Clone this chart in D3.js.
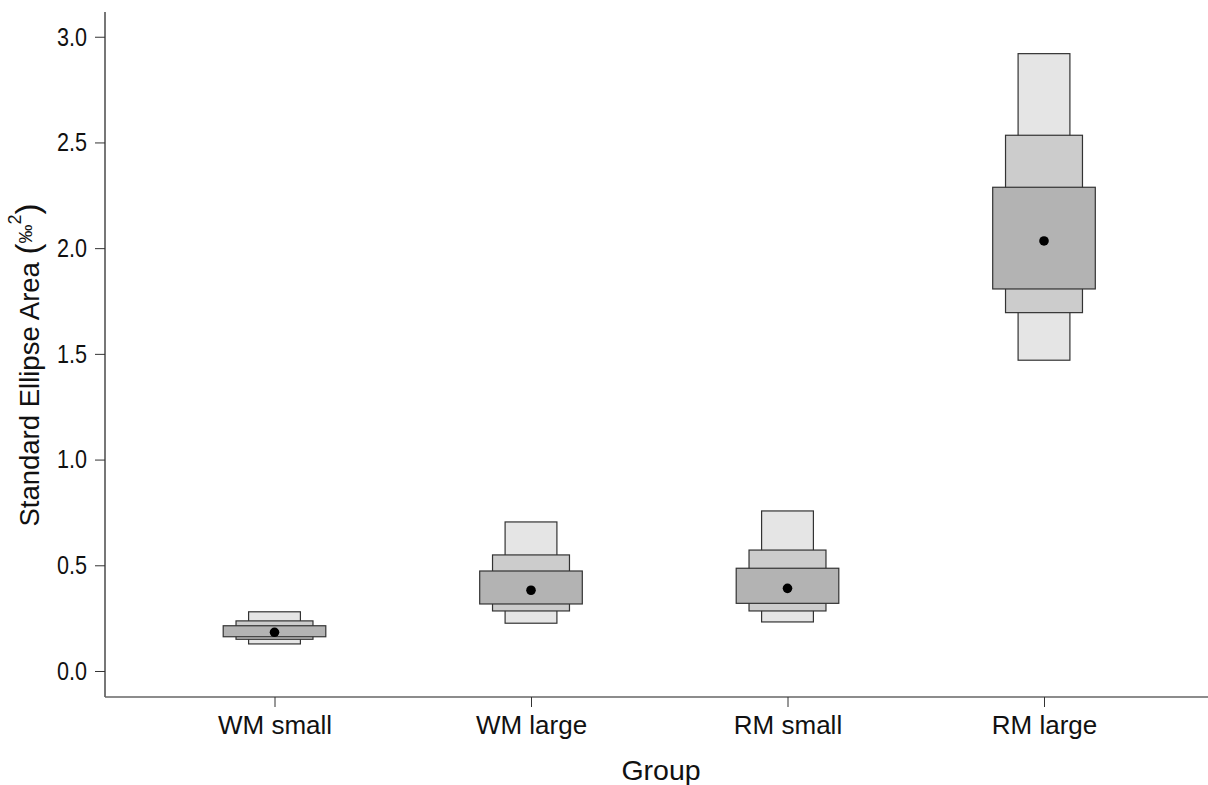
<!DOCTYPE html>
<html>
<head>
<meta charset="utf-8">
<script src="https://cdn.jsdelivr.net/npm/d3@7"></script>
<style>
html,body{margin:0;padding:0;background:#fff;}
svg{display:block;font-family:"Liberation Sans",Arial,sans-serif;}
</style>
</head>
<body>
<svg id="chart" width="1208" height="785"></svg>
<script>
const groups = ["WM small", "WM large", "RM small", "RM large"];
const modeVals = [0.183, 0.382, 0.391, 2.034];
const ci50Lo = [0.162, 0.317, 0.320, 1.807];
const ci50Hi = [0.214, 0.473, 0.486, 2.288];
const ci75Lo = [0.150, 0.284, 0.284, 1.695];
const ci75Hi = [0.237, 0.549, 0.572, 2.534];
const ci95Lo = [0.128, 0.226, 0.232, 1.470];
const ci95Hi = [0.280, 0.705, 0.757, 2.920];
const yTicks = [0, 0.5, 1.0, 1.5, 2.0, 2.5, 3.0];
const yTickLabels = ["0.0", "0.5", "1.0", "1.5", "2.0", "2.5", "3.0"];

const svg = d3.select("#chart");
const mLeft = 105, mRight = 1208, mTop = 12, mBottom = 697;

const x = d3.scalePoint().domain(groups).range([274.5, 1044]);
const y = d3.scaleLinear().domain([-0.123, 3.117]).range([mBottom, mTop]);
const step = x.step();

const layers = [
  {lo: ci95Lo, hi: ci95Hi, w: 0.202, fill: "#e5e5e5"},
  {lo: ci75Lo, hi: ci75Hi, w: 0.300, fill: "#cccccc"},
  {lo: ci50Lo, hi: ci50Hi, w: 0.400, fill: "#b3b3b3"}
];

const g = svg.append("g");
layers.forEach(L => {
  g.selectAll(null).data(groups).enter().append("rect")
    .attr("x", (d) => x(d) - L.w * step / 2)
    .attr("width", L.w * step)
    .attr("y", (d, i) => y(L.hi[i]))
    .attr("height", (d, i) => y(L.lo[i]) - y(L.hi[i]))
    .attr("fill", L.fill)
    .attr("stroke", "#333")
    .attr("stroke-width", 1.2);
});

g.selectAll(null).data(groups).enter().append("circle")
  .attr("cx", d => x(d))
  .attr("cy", (d, i) => y(modeVals[i]))
  .attr("r", 4.8)
  .attr("fill", "#000");

// axes lines
svg.append("line").attr("x1", mLeft).attr("x2", mLeft).attr("y1", mTop).attr("y2", mBottom)
  .attr("stroke", "#555").attr("stroke-width", 1.6);
svg.append("line").attr("x1", mLeft).attr("x2", mRight).attr("y1", mBottom).attr("y2", mBottom)
  .attr("stroke", "#666").attr("stroke-width", 1.6);

// y axis
const yAxis = d3.axisLeft(y).tickValues(yTicks).tickSize(10).tickPadding(8)
  .tickFormat((d, i) => yTickLabels[i]);
const ya = svg.append("g").attr("transform", `translate(${mLeft},0)`).call(yAxis);
ya.select(".domain").remove();
ya.selectAll(".tick line").attr("stroke", "#333").attr("stroke-width", 1);
ya.selectAll(".tick text").attr("font-size", 26).attr("fill", "#111")
  .attr("font-family", "'Liberation Sans', Arial, sans-serif")
  .attr("textLength", 30).attr("lengthAdjust", "spacingAndGlyphs");

// x axis
const xAxis = d3.axisBottom(x).tickSize(10).tickPadding(9);
const xa = svg.append("g").attr("transform", `translate(0,${mBottom})`).call(xAxis);
xa.select(".domain").remove();
xa.selectAll(".tick line").attr("stroke", "#333").attr("stroke-width", 1);
xa.selectAll(".tick text").attr("font-size", 26).attr("fill", "#111")
  .attr("font-family", "'Liberation Sans', Arial, sans-serif");

// axis titles
svg.append("text").attr("x", 661).attr("y", 780).attr("text-anchor", "middle")
  .attr("font-size", 28.5).attr("fill", "#111").text("Group");

const yl = svg.append("text")
  .attr("transform", "translate(39,365) rotate(-90)")
  .attr("text-anchor", "middle").attr("font-size", 27.5).attr("fill", "#111");
yl.append("tspan").text("Standard Ellipse Area ");
yl.append("tspan").attr("font-size", 33).text("(");
yl.append("tspan").attr("font-size", 19).attr("dy", -7).text("‰");
yl.append("tspan").attr("font-size", 18).attr("dy", -11).text("2");
yl.append("tspan").attr("font-size", 33).attr("dy", 18).text(")");
</script>
</body>
</html>
